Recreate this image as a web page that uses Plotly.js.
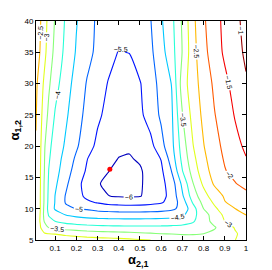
<!DOCTYPE html>
<html><head><meta charset="utf-8">
<script src="https://cdn.plot.ly/plotly-3.0.1.min.js"></script>
<style>html,body{margin:0;padding:0;background:#fff;}#chart{width:272px;height:270px;}</style>
</head><body><div id="chart"></div>
<script>
// grid of alpha_{2,1} (x) and alpha_{1,2} (y)
const alpha21 = [0.01,0.03,0.05,0.07,0.1,0.15,0.2,0.25,0.3,0.35,0.4,0.45,0.5,0.55,0.6,0.65,0.7,0.75,0.8,0.85,0.9,0.95,1.0];
const alpha12 = [5,6,7,8,9,10,11,12,14,16,18,20,25,30,35,40];

// estimated surface values, one row per alpha_{1,2}
const z_y05 = [-2.88,-2.8,-2.75,-2.72,-2.7,-2.73,-2.76,-2.79,-2.82,-2.85,-2.88,-2.92,-2.96,-3.0,-3.05,-3.12,-3.18,-3.2,-3.18,-3.12,-3.06,-3.0,-2.9];
const z_y06 = [-2.85,-2.92,-2.97,-3.0,-3.02,-3.1,-3.18,-3.25,-3.3,-3.33,-3.35,-3.38,-3.42,-3.46,-3.5,-3.52,-3.55,-3.55,-3.5,-3.4,-3.25,-3.05,-2.8];
const z_y07 = [-2.82,-2.97,-3.25,-3.52,-3.62,-3.72,-3.78,-3.83,-3.86,-3.88,-3.89,-3.9,-3.9,-3.9,-3.9,-3.88,-3.85,-3.8,-3.7,-3.55,-3.25,-2.95,-2.7];
const z_y08 = [-2.78,-3.02,-3.55,-3.85,-4.0,-4.15,-4.22,-4.27,-4.3,-4.32,-4.33,-4.33,-4.33,-4.32,-4.3,-4.28,-4.22,-4.05,-3.72,-3.35,-3.0,-2.78,-2.6];
const z_y09 = [-2.76,-3.01,-3.65,-4.03,-4.25,-4.5,-4.62,-4.7,-4.74,-4.76,-4.77,-4.78,-4.78,-4.77,-4.75,-4.7,-4.6,-4.15,-3.7,-3.3,-2.9,-2.6,-2.5];
const z_y10 = [-2.74,-2.99,-3.63,-4.15,-4.55,-4.9,-5.01,-5.05,-5.15,-5.2,-5.23,-5.25,-5.25,-5.22,-5.18,-5.1,-4.85,-4.2,-3.5,-3.1,-2.75,-2.5,-2.35];
const z_y11 = [-2.72,-2.99,-3.58,-4.12,-4.52,-5.03,-5.28,-5.42,-5.53,-5.65,-5.68,-5.7,-5.68,-5.63,-5.55,-5.3,-4.75,-3.95,-3.35,-2.93,-2.52,-2.38,-2.25];
const z_y12 = [-2.7,-2.99,-3.57,-4.1,-4.51,-5.03,-5.34,-5.59,-5.78,-5.99,-6.03,-6.04,-6.02,-5.86,-5.66,-5.33,-4.57,-3.75,-3.2,-2.75,-2.45,-2.3,-2.15];
const z_y14 = [-2.68,-2.97,-3.56,-4.06,-4.41,-4.9,-5.35,-5.67,-5.97,-6.08,-6.15,-6.15,-6.05,-5.85,-5.65,-5.25,-4.38,-3.52,-2.9,-2.45,-2.23,-2.02,-1.85];
const z_y16 = [-2.65,-2.97,-3.51,-4.01,-4.31,-4.78,-5.2,-5.56,-5.78,-5.99,-6.1,-6.12,-6.05,-5.83,-5.6,-4.98,-4.02,-3.29,-2.7,-2.32,-2.03,-1.85,-1.65];
const z_y18 = [-2.62,-2.95,-3.49,-3.95,-4.25,-4.68,-5.08,-5.48,-5.75,-5.9,-6.01,-6.03,-5.95,-5.75,-5.48,-4.76,-3.86,-3.14,-2.6,-2.25,-1.95,-1.72,-1.52];
const z_y20 = [-2.53,-2.92,-3.45,-3.89,-4.19,-4.57,-4.93,-5.31,-5.6,-5.8,-5.92,-5.95,-5.85,-5.65,-5.16,-4.64,-3.76,-3.02,-2.52,-2.18,-1.88,-1.63,-1.42];
const z_y25 = [-2.47,-2.85,-3.24,-3.61,-4.04,-4.42,-4.8,-5.13,-5.42,-5.62,-5.8,-5.85,-5.6,-5.28,-4.92,-4.57,-3.52,-2.82,-2.39,-2.03,-1.74,-1.46,-1.22];
const z_y30 = [-2.4,-2.75,-3.1,-3.42,-3.81,-4.29,-4.68,-5.03,-5.28,-5.52,-5.7,-5.75,-5.53,-5.2,-4.85,-4.48,-3.26,-2.7,-2.3,-1.92,-1.61,-1.32,-1.05];
const z_y35 = [-2.2,-2.53,-2.88,-3.22,-3.64,-4.13,-4.54,-4.86,-5.1,-5.35,-5.52,-5.49,-5.25,-5.1,-4.68,-4.2,-3.48,-2.67,-2.15,-1.75,-1.42,-1.17,-0.92];
const z_y40 = [-2.1,-2.46,-2.82,-3.14,-3.54,-4.06,-4.47,-4.79,-5.08,-5.25,-5.4,-5.45,-5.3,-5.02,-4.56,-4.13,-3.43,-2.62,-2.07,-1.69,-1.38,-1.12,-0.85];

// contour levels and their line colours
const levels = [-6,-5.5,-5,-4.5,-4,-3.5,-3,-2.5,-2,-1.5,-1];
const levelColors = ['rgb(0,0,190)','rgb(0,20,255)','rgb(0,100,255)','rgb(0,200,255)','rgb(40,255,215)',
  'rgb(135,255,120)','rgb(225,255,30)','rgb(255,185,0)','rgb(255,90,0)','rgb(245,0,0)','rgb(150,0,0)'];

// marked optimum
const optX = [0.358];
const optY = [16.3];

const xTickVals = [0.1,0.2,0.3,0.4,0.5,0.6,0.7,0.8,0.9,1];
const xTickText = ['0.1','0.2','0.3','0.4','0.5','0.6','0.7','0.8','0.9','1'];
const yTickVals = [5,10,15,20,25,30,35,40];
const xTitle = '<b>α<sub>2,1</sub></b>';
const yTitle = '<b>α<sub>1,2</sub></b>';

const z = [z_y05,z_y06,z_y07,z_y08,z_y09,z_y10,z_y11,z_y12,z_y14,z_y16,z_y18,z_y20,z_y25,z_y30,z_y35,z_y40];
const lo = levels[0], hi = levels[levels.length-1];
const colorscale = levels.map((v,i)=>[(v-lo)/(hi-lo), levelColors[i]]);

const font = 'Liberation Sans, Arial, Helvetica, sans-serif';

const traces = [
  {type:'contour', x:alpha21, y:alpha12, z:z, autocontour:false,
   contours:{start:lo, end:hi, size:0.5, coloring:'lines', showlabels:true,
     labelfont:{size:7, color:'black', family:font}},
   line:{width:1.1, smoothing:0.6}, colorscale:colorscale, showscale:false, hoverinfo:'skip'},
  {type:'scatter', mode:'markers', x:optX, y:optY,
   marker:{color:'rgb(255,0,0)', size:5}, hoverinfo:'skip', showlegend:false}
];

const axisCommon = {ticks:'inside', ticklen:4, tickcolor:'black', showline:true, linecolor:'black',
  linewidth:1, mirror:'ticks', showgrid:false, zeroline:false, tickfont:{size:8, color:'black', family:font}};

const layout = {
  width:272, height:270, margin:{l:36, r:26, t:21, b:30},
  paper_bgcolor:'white', plot_bgcolor:'white', showlegend:false,
  font:{family:font, color:'black'},
  xaxis:Object.assign({}, axisCommon, {range:[0.01,1], tickvals:xTickVals, ticktext:xTickText}),
  yaxis:Object.assign({}, axisCommon, {range:[5,40], tickvals:yTickVals}),
  annotations:[
    {text:xTitle, xref:'paper', yref:'paper', x:0.49, y:-0.095, xanchor:'center', yanchor:'middle',
     showarrow:false, font:{size:13, family:font, color:'black'}},
    {text:yTitle, xref:'paper', yref:'paper', x:-0.1, y:0.5, xanchor:'center', yanchor:'middle',
     textangle:-90, showarrow:false, font:{size:13, family:font, color:'black'}}
  ]
};

Plotly.newPlot('chart', traces, layout, {staticPlot:true, displayModeBar:false});
</script></body></html>
